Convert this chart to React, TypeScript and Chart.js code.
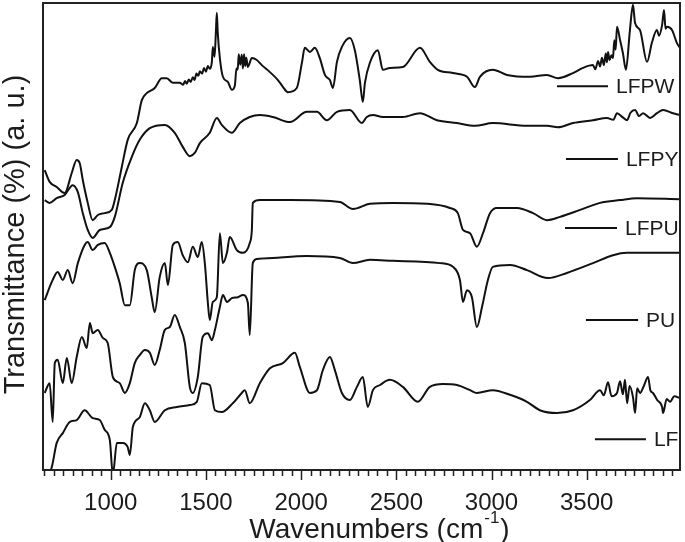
import { useEffect, useRef } from 'react';
import { Chart, registerables } from 'chart.js';

Chart.register(...registerables);

// Wavenumber (cm^-1), transmittance (a.u., offset curves)
const lfpw: [number, number][] = [
  [653, 64.2], [679, 61.7], [716, 60.6], [758, 59.3], [795, 63.6], [821, 66.4], [837, 65.7], [853, 62.1],
  [879, 57.2], [905, 53.5], [932, 54.6], [968, 55.0], [1005, 55.7], [1021, 57.8], [1058, 64.9], [1089, 70.7],
  [1137, 74.3], [1163, 79.2], [1189, 80.7], [1231, 81.8], [1268, 83.9], [1294, 83.9], [1326, 82.9], [1363, 82.9],
  [1380, 82.5], [1390, 83.3], [1399, 82.7], [1410, 83.6], [1420, 83.1], [1431, 84.1], [1440, 83.5], [1450, 84.9],
  [1460, 84.4], [1468, 85.4], [1480, 84.9], [1490, 86.1], [1500, 85.3], [1510, 86.5], [1520, 85.9], [1531, 87.4],
  [1536, 90.6], [1545, 88.5], [1552, 93.6], [1557, 97.9], [1562, 93.6], [1573, 88.2], [1589, 84.2], [1615, 83.1],
  [1636, 81.4], [1652, 82.4], [1660, 86.0], [1667, 85.7], [1672, 89.0], [1680, 86.8], [1688, 88.9], [1694, 86.0],
  [1700, 89.0], [1706, 86.5], [1712, 88.3], [1720, 86.3], [1741, 88.2], [1767, 87.8], [1793, 86.7], [1836, 85.2],
  [1878, 83.5], [1905, 82.0], [1930, 80.9], [1977, 81.8], [2004, 87.2], [2019, 90.4], [2046, 89.5], [2072, 90.4],
  [2098, 88.2], [2125, 84.6], [2151, 83.5], [2167, 81.8], [2188, 87.4], [2214, 90.6], [2256, 92.5], [2282, 89.9],
  [2308, 83.5], [2324, 78.8], [2335, 82.9], [2361, 87.2], [2403, 89.9], [2429, 85.7], [2466, 86.1], [2534, 86.3],
  [2624, 90.4], [2676, 87.4], [2718, 85.7], [2797, 85.0], [2871, 84.2], [2913, 82.0], [2939, 84.2], [3007, 85.7],
  [3081, 84.6], [3202, 84.2], [3291, 84.6], [3349, 83.9], [3428, 85.0], [3480, 86.1], [3533, 86.7], [3545, 85.8],
  [3560, 87.6], [3570, 86.4], [3580, 88.3], [3590, 86.7], [3600, 89.2], [3606, 87.3], [3612, 89.5], [3620, 87.8],
  [3630, 88.8], [3638, 88.2], [3645, 92.0], [3652, 90.0], [3659, 94.9], [3675, 92.1], [3690, 89.3], [3706, 85.7],
  [3727, 94.2], [3743, 99.6], [3754, 95.7], [3780, 94.2], [3817, 87.4], [3843, 91.6], [3869, 94.2], [3880, 93.0],
  [3896, 95.3], [3906, 98.5], [3914, 94.5], [3922, 94.9], [3948, 94.2], [3974, 91.4], [3990, 90.4],
];

const lfpy: [number, number][] = [
  [653, 57.8], [679, 57.2], [716, 58.2], [758, 58.9], [800, 61.0], [827, 59.5], [853, 55.0], [879, 51.4],
  [905, 49.7], [942, 51.4], [995, 52.0], [1021, 54.2], [1063, 61.5], [1110, 67.0], [1152, 70.7], [1205, 73.2],
  [1284, 73.9], [1336, 72.2], [1378, 69.2], [1415, 67.2], [1441, 67.9], [1468, 70.0], [1520, 72.2], [1557, 75.4],
  [1583, 73.9], [1636, 72.2], [1678, 74.3], [1730, 75.6], [1783, 76.0], [1851, 75.6], [1941, 74.5], [2030, 76.7],
  [2083, 76.7], [2135, 74.9], [2188, 76.7], [2256, 77.1], [2319, 74.3], [2345, 75.6], [2377, 76.0], [2429, 75.6],
  [2534, 75.6], [2624, 76.4], [2713, 74.9], [2818, 74.3], [2913, 73.7], [3007, 74.3], [3186, 73.7], [3291, 73.7],
  [3349, 73.4], [3428, 74.3], [3533, 74.9], [3606, 75.4], [3640, 75.0], [3659, 76.4], [3690, 75.5], [3712, 74.9],
  [3730, 76.5], [3754, 77.1], [3775, 75.8], [3796, 76.4], [3833, 75.4], [3869, 76.4], [3901, 77.1], [3953, 76.4],
  [3990, 76.0],
];

const lfpu: [number, number][] = [
  [653, 36.4], [695, 40.7], [721, 42.4], [748, 40.7], [774, 42.8], [800, 40.0], [827, 44.3], [863, 48.2],
  [879, 48.8], [905, 47.1], [932, 48.2], [968, 48.6], [995, 46.5], [1021, 43.5], [1047, 40.0], [1074, 35.3],
  [1100, 35.3], [1126, 42.8], [1152, 44.3], [1189, 42.8], [1215, 37.0], [1231, 33.8], [1257, 41.3], [1284, 44.3],
  [1300, 39.6], [1326, 48.2], [1352, 48.8], [1378, 46.0], [1405, 44.5], [1431, 47.8], [1457, 45.6], [1478, 48.8],
  [1494, 44.3], [1510, 35.8], [1520, 32.1], [1536, 36.0], [1557, 37.0], [1573, 50.7], [1589, 44.3], [1610, 46.5],
  [1625, 49.9], [1662, 47.1], [1694, 46.5], [1730, 48.6], [1741, 51.4], [1746, 57.2], [1783, 57.8], [1941, 57.8],
  [2203, 57.4], [2272, 55.9], [2361, 57.0], [2482, 57.2], [2661, 57.0], [2781, 56.1], [2823, 55.0], [2850, 51.4],
  [2887, 50.7], [2923, 47.8], [2955, 50.7], [2992, 55.0], [3028, 56.1], [3134, 56.1], [3218, 55.0], [3291, 53.5],
  [3359, 54.2], [3465, 55.7], [3570, 57.2], [3675, 57.8], [3764, 58.2], [3990, 58.0],
];

const pu: [number, number][] = [
  [653, 16.5], [679, 18.6], [695, 10.3], [706, 22.9], [721, 23.6], [748, 18.6], [769, 24.0], [795, 18.6],
  [821, 24.2], [848, 28.5], [874, 26.1], [890, 31.5], [905, 29.3], [932, 30.0], [958, 28.3], [984, 27.2],
  [1011, 19.9], [1047, 18.6], [1074, 16.5], [1100, 18.6], [1126, 22.9], [1152, 24.6], [1179, 25.7], [1205, 25.1],
  [1231, 22.5], [1257, 25.7], [1284, 30.0], [1310, 30.6], [1336, 33.2], [1363, 30.6], [1389, 27.2], [1415, 17.8],
  [1431, 16.5], [1457, 19.9], [1483, 28.5], [1510, 29.3], [1531, 27.8], [1547, 30.0], [1573, 34.9], [1589, 37.5],
  [1610, 36.0], [1636, 36.8], [1667, 37.0], [1694, 37.5], [1720, 35.8], [1730, 28.9], [1746, 44.3], [1767, 45.2],
  [1851, 45.4], [2030, 45.8], [2203, 45.4], [2272, 44.3], [2361, 45.0], [2482, 44.8], [2729, 44.3], [2797, 43.5],
  [2834, 40.7], [2850, 36.0], [2871, 38.5], [2897, 37.0], [2923, 30.6], [2950, 34.9], [2981, 40.7], [3007, 43.5],
  [3097, 43.9], [3186, 42.8], [3296, 41.1], [3396, 42.2], [3533, 44.3], [3638, 46.0], [3712, 46.5], [3990, 46.5],
];

const lf: [number, number][] = [
  [650, -3.0], [690, 0.6], [716, 5.8], [748, 7.9], [785, 10.3], [821, 10.7], [863, 12.8], [905, 11.1],
  [942, 10.7], [968, 8.6], [995, 6.4], [1011, -1.0], [1032, 5.8], [1063, 5.8], [1089, 4.9], [1100, 3.2],
  [1116, 9.2], [1152, 11.3], [1179, 14.3], [1205, 12.8], [1231, 10.3], [1284, 12.8], [1347, 13.5], [1415, 13.9],
  [1452, 14.6], [1478, 18.6], [1520, 18.2], [1547, 12.8], [1583, 12.4], [1641, 14.3], [1688, 16.5], [1704, 17.1],
  [1730, 14.3], [1783, 18.6], [1836, 21.8], [1904, 22.9], [1967, 25.1], [1993, 22.1], [2046, 16.5], [2083, 17.1],
  [2114, 21.4], [2151, 24.2], [2177, 21.4], [2214, 16.5], [2256, 15.0], [2293, 17.8], [2324, 19.9], [2350, 13.5],
  [2377, 17.1], [2414, 18.2], [2466, 19.3], [2534, 17.8], [2613, 14.6], [2676, 17.8], [2745, 18.4], [2818, 18.2],
  [2887, 17.1], [2923, 16.5], [3007, 17.1], [3097, 16.1], [3186, 14.6], [3254, 12.8], [3344, 12.2], [3428, 12.8],
  [3517, 15.0], [3570, 17.1], [3590, 16.0], [3612, 18.8], [3630, 15.8], [3659, 16.5], [3675, 19.0], [3690, 16.2],
  [3701, 19.3], [3712, 14.3], [3725, 18.0], [3743, 15.6], [3754, 12.2], [3765, 17.5], [3780, 16.5], [3800, 18.0],
  [3822, 19.9], [3835, 17.0], [3848, 16.5], [3870, 15.0], [3896, 13.5], [3901, 12.2], [3920, 15.2], [3938, 14.6],
  [3960, 15.8], [3990, 15.4],
];

const seriesNames = ['LFPW', 'LFPY', 'LFPU', 'PU', 'LF'];
const seriesData = [lfpw, lfpy, lfpu, pu, lf];

const xTickValues = [1000, 1500, 2000, 2500, 3000, 3500];
const xMin = 644;
const xMax = 3990;
const yMin = 0;
const yMax = 100;

// Origin-style inline legend: short line (x from..to, at level) followed by the name
const labelLineStart = [3344, 3391, 3386, 3496, 3543];
const labelLineEnd = [3612, 3664, 3659, 3770, 3811];
const labelLevel = [82.2, 66.6, 51.8, 32.1, 6.6];

const FONT = "'Liberation Sans', Arial, sans-serif";
const INK = '#1c1c1c';

const decorPlugin = {
  id: 'ftirDecor',
  afterDraw(chart: any) {
    const { ctx, chartArea: a, scales } = chart;
    const x = scales.x;
    const y = scales.y;
    ctx.save();

    // frame (four filled bars)
    ctx.fillStyle = '#222';
    const L = Math.round(a.left);
    const R = Math.round(a.right);
    const T = Math.round(a.top);
    const B = Math.round(a.bottom);
    ctx.fillRect(L - 1, T - 1, R - L + 2, 2);
    ctx.fillRect(L - 1, B - 1, R - L + 2, 2);
    ctx.fillRect(L - 1, T - 1, 2, B - T + 2);
    ctx.fillRect(R - 1, T - 1, 2, B - T + 2);

    // ticks on bottom axis
    ctx.strokeStyle = '#222';
    ctx.lineWidth = 1.5;
    for (let v = 650; v <= xMax; v += 50) {
      const px = Math.round(x.getPixelForValue(v)) + 0.5;
      const major = v % 500 === 0;
      ctx.beginPath();
      ctx.moveTo(px, B);
      ctx.lineTo(px, B + (major ? 10 : 6));
      ctx.stroke();
    }

    // inline legend
    ctx.fillStyle = INK;
    ctx.strokeStyle = '#111';
    ctx.lineWidth = 2;
    ctx.font = `21px ${FONT}`;
    ctx.textBaseline = 'middle';
    ctx.textAlign = 'left';
    seriesNames.forEach((name, i) => {
      const x1 = x.getPixelForValue(labelLineStart[i]);
      const x2 = x.getPixelForValue(labelLineEnd[i]);
      const py = y.getPixelForValue(labelLevel[i]);
      ctx.beginPath();
      ctx.moveTo(x1, py);
      ctx.lineTo(x2, py);
      ctx.stroke();
      ctx.fillText(name, x2 + 8, py + 1);
    });

    // x axis title with superscript
    const main = 'Wavenumbers (cm';
    const sup = '-1';
    const close = ')';
    ctx.textBaseline = 'alphabetic';
    ctx.font = `28px ${FONT}`;
    const wMain = ctx.measureText(main).width;
    const wClose = ctx.measureText(close).width;
    ctx.font = `17px ${FONT}`;
    const wSup = ctx.measureText(sup).width;
    const total = wMain + wSup + wClose + 2;
    const cx = (a.left + a.right) / 2 + 18;
    let sx = cx - total / 2;
    const base = a.bottom + 68;
    ctx.font = `28px ${FONT}`;
    ctx.fillText(main, sx, base);
    sx += wMain + 1;
    ctx.font = `17px ${FONT}`;
    ctx.fillText(sup, sx, base - 15);
    sx += wSup + 1;
    ctx.font = `28px ${FONT}`;
    ctx.fillText(close, sx, base);

    // y axis title
    ctx.save();
    ctx.translate(24, (a.top + a.bottom) / 2 - 2);
    ctx.rotate(-Math.PI / 2);
    ctx.textAlign = 'center';
    ctx.textBaseline = 'alphabetic';
    ctx.font = `29px ${FONT}`;
    ctx.fillText('Transmittance (%) (a. u.)', 0, 0);
    ctx.restore();

    ctx.restore();
  },
};

export default function App() {
  const ref = useRef<HTMLCanvasElement>(null);
  useEffect(() => {
    const chart = new Chart(ref.current as HTMLCanvasElement, {
      type: 'line',
      data: {
        datasets: seriesData.map((d, i) => ({
          label: seriesNames[i],
          data: d.map(([wx, t]) => ({ x: wx, y: t })),
          borderColor: '#111',
          borderWidth: 2,
          pointRadius: 0,
          cubicInterpolationMode: 'monotone' as const,
          fill: false,
        })),
      },
      options: {
        animation: false,
        responsive: false,
        maintainAspectRatio: false,
        layout: { padding: { left: 43, top: 3, right: 5, bottom: 0 } },
        plugins: { legend: { display: false }, tooltip: { enabled: false } },
        scales: {
          x: {
            type: 'linear',
            min: xMin,
            max: xMax,
            afterBuildTicks: (s: any) => {
              s.ticks = xTickValues.map((v) => ({ value: v }));
            },
            afterFit: (s: any) => {
              s.height = 72;
            },
            grid: { display: false },
            border: { display: false },
            ticks: {
              padding: 11,
              color: INK,
              font: { family: FONT, size: 24 },
              maxRotation: 0,
              autoSkip: false,
              callback: (v: any) => String(v),
            },
          },
          y: {
            type: 'linear',
            min: yMin,
            max: yMax,
            display: false,
          },
        },
      },
      plugins: [decorPlugin],
    });
    return () => chart.destroy();
  }, []);
  return (
    <div style={{ position: 'absolute', left: 0, top: 0, width: 685, height: 542 }}>
      <canvas ref={ref} width={685} height={542} />
    </div>
  );
}
